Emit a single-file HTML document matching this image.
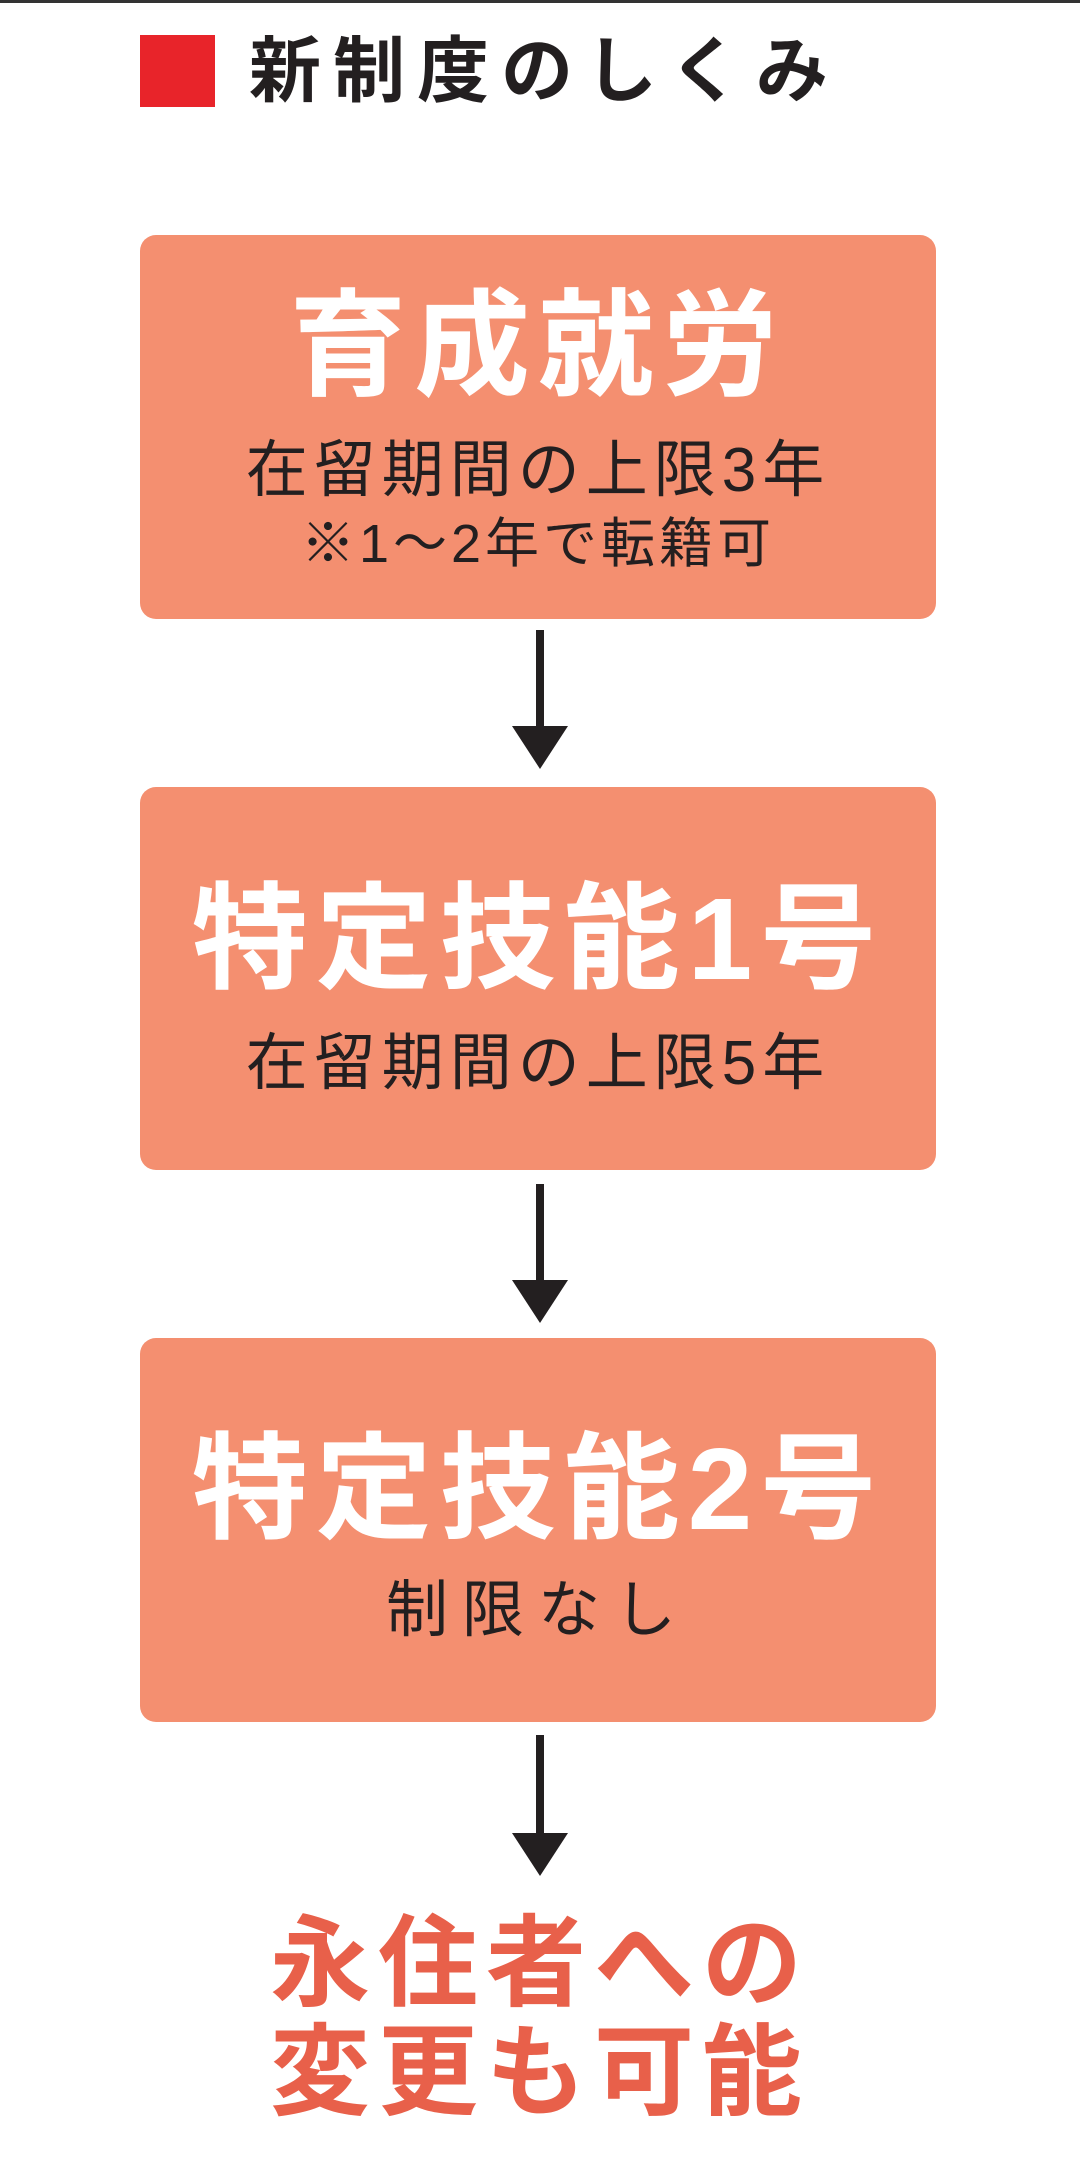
<!DOCTYPE html>
<html><head><meta charset="utf-8"><style>
html,body{margin:0;padding:0;}
body{width:1080px;height:2172px;background:#fff;position:relative;overflow:hidden;font-family:"Liberation Sans","Noto Sans CJK JP",sans-serif;}
.topline{position:absolute;left:0;top:0;width:1080px;height:3px;background:#333;}
.sq{position:absolute;left:140px;top:35px;width:75px;height:72px;background:#e8242a;}
.title{position:absolute;left:249px;top:22px;height:100px;line-height:100px;font-size:72px;font-weight:bold;color:#231f20;letter-spacing:12px;white-space:nowrap;}
.box{position:absolute;left:140px;width:796px;background:#f48f70;border-radius:16px;}
.t{position:absolute;left:0;width:100%;text-align:center;white-space:nowrap;}
.big{font-size:116px;font-weight:bold;color:#fff;letter-spacing:8px;height:130px;line-height:130px;}
.mid{font-size:62px;color:#231f20;letter-spacing:6px;height:74px;line-height:74px;}
.sm{font-size:54px;color:#231f20;letter-spacing:4px;height:64px;line-height:64px;}
.arrow{position:absolute;left:512px;width:56px;}
.red{position:absolute;left:0;width:1080px;text-align:center;font-size:100px;font-weight:bold;color:#e8604a;letter-spacing:8px;height:110px;line-height:110px;}
</style></head><body>
<div class="topline"></div>
<div class="sq"></div>
<div class="title">新制度のしくみ</div>

<div class="box" style="top:235px;height:384px;">
  <div class="t big" style="top:46px;">育成就労</div>
  <div class="t mid" style="top:199px;">在留期間の上限3年</div>
  <div class="t sm" style="top:277px;">※1～2年で転籍可</div>
</div>
<svg class="arrow" style="top:630px;" height="140" viewBox="0 0 56 140"><rect x="24" y="0" width="8" height="100" fill="#231f20"/><polygon points="0,96 56,96 28,139" fill="#231f20"/></svg>

<div class="box" style="top:787px;height:383px;">
  <div class="t big" style="top:87px;">特定技能1号</div>
  <div class="t mid" style="top:240px;">在留期間の上限5年</div>
</div>
<svg class="arrow" style="top:1184px;" height="140" viewBox="0 0 56 140"><rect x="24" y="0" width="8" height="100" fill="#231f20"/><polygon points="0,96 56,96 28,139" fill="#231f20"/></svg>

<div class="box" style="top:1338px;height:384px;">
  <div class="t big" style="top:86px;">特定技能2号</div>
  <div class="t mid" style="top:236px;letter-spacing:14px;">制限なし</div>
</div>
<svg class="arrow" style="top:1735px;" height="142" viewBox="0 0 56 142"><rect x="24" y="0" width="8" height="102" fill="#231f20"/><polygon points="0,98 56,98 28,141" fill="#231f20"/></svg>

<div class="red" style="top:1909px;">永住者への</div>
<div class="red" style="top:2018px;">変更も可能</div>
</body></html>
